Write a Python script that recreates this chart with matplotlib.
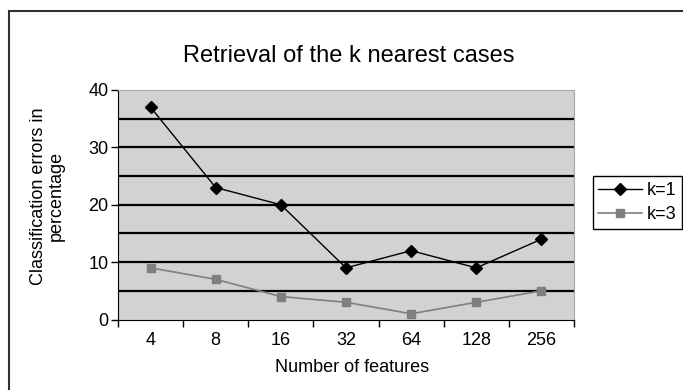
import matplotlib
matplotlib.use("Agg")
import matplotlib.pyplot as plt
from matplotlib.patches import Rectangle
import numpy as np

plt.rcParams["font.family"] = ["Liberation Sans", "DejaVu Sans"]

# data
features = ["4", "8", "16", "32", "64", "128", "256"]
errors_k1 = [37, 23, 20, 9, 12, 9, 14]
errors_k3 = [9, 7, 4, 3, 1, 3, 5]
series_names = ["k=1", "k=3"]

W, H = 683, 390
fig = plt.figure(figsize=(W / 100, H / 100), dpi=100)
fig.patch.set_facecolor("white")

# outer chart border (runs off the right and bottom edge like the original)
fig.patches.append(Rectangle((9 / W, -0.05), 1.0, 1 - 11 / H + 0.05,
                             transform=fig.transFigure, fill=False,
                             edgecolor="#303030", linewidth=1.5))

ax = fig.add_axes([118 / W, 1 - 319.5 / H, (574 - 118) / W, (319.5 - 90) / H])
ax.set_facecolor("#d2d2d2")

x = np.arange(len(features))
ax.plot(x, errors_k1, color="black", linewidth=1.0, marker="D",
        markersize=6, label=series_names[0], zorder=4)
ax.plot(x, errors_k3, color="#7f7f7f", linewidth=1.2, marker="s",
        markersize=6, label=series_names[1], zorder=3)

ax.set_xlim(-0.5, len(features) - 0.5)
ax.set_ylim(0, 40)

# gridlines every 5, labels every 10
for g in range(5, 40, 5):
    ax.axhline(g, color="black", linewidth=1.6, zorder=2)

ax.set_yticks([0, 10, 20, 30, 40])
ax.set_yticklabels(["0", "10", "20", "30", "40"], fontsize=13)
ax.set_xticks(np.arange(-0.5, len(features), 1.0))
ax.set_xticklabels([])
ax.set_xticks(x, minor=True)
ax.set_xticklabels(features, minor=True, fontsize=13)
ax.tick_params(axis="x", which="major", direction="out", length=5, width=1)
ax.tick_params(axis="x", which="minor", length=0, pad=9)
ax.tick_params(axis="y", direction="out", length=5, width=1, pad=2)

ax.spines["left"].set_color("black")
ax.spines["bottom"].set_color("black")
ax.spines["top"].set_color("#a8a8a8")
ax.spines["right"].set_color("#a8a8a8")

fig.text(0.51, 1 - 55.5 / H, "Retrieval of the k nearest cases",
         ha="center", va="center", fontsize=17)
fig.text(352 / W, 1 - 368 / H, "Number of features", ha="center",
         va="center", fontsize=13)
fig.text(47.5 / W, 1 - 196 / H, "Classification errors in\npercentage",
         ha="center", va="center", rotation=90, fontsize=13,
         linespacing=1.1)

leg = fig.legend(loc="upper left", bbox_to_anchor=(593 / W, 1 - 176.5 / H),
                 fontsize=13, frameon=True, fancybox=False, framealpha=1,
                 edgecolor="black", borderpad=0.3, labelspacing=0.4,
                 handlelength=2.4, handletextpad=0.3, borderaxespad=0)
leg.get_frame().set_linewidth(1.0)

fig.savefig("out.png", dpi=100)
